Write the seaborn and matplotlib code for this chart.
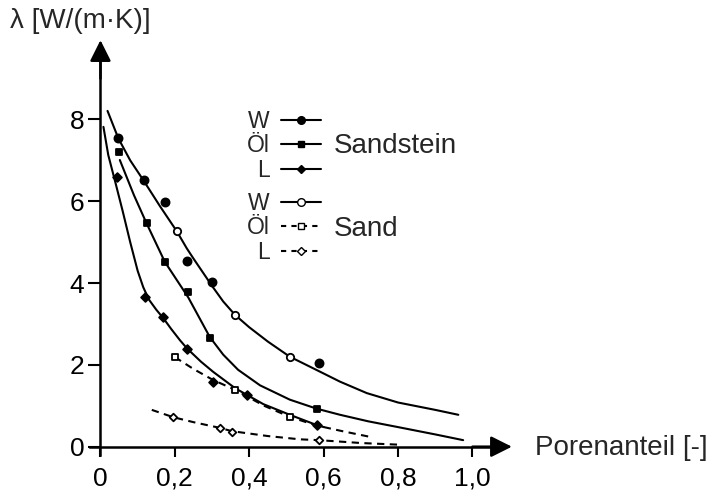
import numpy as np
import pandas as pd
import matplotlib
matplotlib.use("Agg")
import matplotlib.pyplot as plt
from matplotlib.lines import Line2D
import seaborn as sns

# ---------------- data ----------------
x_ticks = [0, 0.2, 0.4, 0.6, 0.8, 1.0]
x_tick_labels = ["0", "0,2", "0,4", "0,6", "0,8", "1,0"]
y_ticks = [0, 2, 4, 6, 8]
y_tick_labels = ["0", "2", "4", "6", "8"]

x_label = "Porenanteil [-]"
y_label = "λ [W/(m·K)]"

# measured points
w_sst_x = [0.048, 0.118, 0.173, 0.232, 0.299, 0.588]
w_sst_y = [7.55, 6.52, 5.99, 4.53, 4.02, 2.05]
oel_sst_x = [0.05, 0.124, 0.173, 0.236, 0.294, 0.581]
oel_sst_y = [7.2, 5.46, 4.52, 3.79, 2.65, 0.93]
l_sst_x = [0.044, 0.12, 0.169, 0.233, 0.303, 0.393, 0.581]
l_sst_y = [6.6, 3.67, 3.16, 2.38, 1.59, 1.26, 0.52]
w_sand_x = [0.205, 0.362, 0.509]
w_sand_y = [5.27, 3.22, 2.2]
oel_sand_x = [0.2, 0.362, 0.509]
oel_sand_y = [2.19, 1.39, 0.73]
l_sand_x = [0.196, 0.321, 0.353, 0.587]
l_sand_y = [0.72, 0.45, 0.35, 0.16]

# fitted curves
w_curve_x = [0.019, 0.048, 0.08, 0.115, 0.16, 0.205, 0.232, 0.25, 0.3, 0.33, 0.362, 0.4, 0.45, 0.509,
             0.58, 0.644, 0.716, 0.8, 0.9, 0.962]
w_curve_y = [8.21, 7.54, 7.0, 6.52, 5.88, 5.27, 4.85, 4.6, 3.93, 3.55, 3.22, 2.92, 2.57, 2.2,
             1.88, 1.59, 1.31, 1.08, 0.9, 0.78]
oel_curve_x = [0.052, 0.09, 0.124, 0.173, 0.236, 0.294, 0.33, 0.37, 0.429, 0.509, 0.581, 0.644,
               0.72, 0.805, 0.9, 0.975]
oel_curve_y = [7.01, 6.15, 5.46, 4.52, 3.65, 2.68, 2.25, 1.88, 1.5, 1.15, 0.93, 0.78,
               0.62, 0.47, 0.3, 0.16]
l_curve_x = [0.008, 0.021, 0.039, 0.06, 0.08, 0.1, 0.115, 0.13, 0.15, 0.17, 0.19, 0.214, 0.233,
             0.27, 0.303, 0.362, 0.438, 0.509, 0.581, 0.6]
l_curve_y = [7.82, 7.13, 6.5, 5.75, 5.0, 4.3, 3.9, 3.6, 3.35, 3.13, 2.88, 2.6, 2.4,
             2.08, 1.83, 1.43, 1.04, 0.78, 0.53, 0.48]
oel_sand_curve_x = [0.2, 0.25, 0.303, 0.362, 0.44, 0.509, 0.58, 0.65, 0.725]
oel_sand_curve_y = [2.19, 1.9, 1.63, 1.39, 1.0, 0.73, 0.52, 0.38, 0.24]
l_sand_curve_x = [0.138, 0.196, 0.25, 0.321, 0.353, 0.45, 0.536, 0.587, 0.7, 0.8]
l_sand_curve_y = [0.9, 0.72, 0.6, 0.46, 0.38, 0.26, 0.18, 0.16, 0.09, 0.05]

legend_labels = ["W", "Öl", "L"]
group_labels = ["Sandstein", "Sand"]

# ---------------- figure ----------------
sns.set_theme(style="white")
plt.rcParams["font.family"] = ["Liberation Sans", "DejaVu Sans"]

fig = plt.figure(figsize=(7.15, 4.96), dpi=100)
ax = fig.add_axes([0.1249, 0.0788, 0.5983, 0.8452])

LW = 1.5
DASH = (3.5, 2.6)

curves = [
    (w_curve_x, w_curve_y, "-"),
    (oel_curve_x, oel_curve_y, "-"),
    (l_curve_x, l_curve_y, "-"),
    (oel_sand_curve_x, oel_sand_curve_y, "--"),
    (l_sand_curve_x, l_sand_curve_y, "--"),
]
for cx, cy, ls in curves:
    df = pd.DataFrame({"x": cx, "y": cy})
    line_kw = dict(color="black", lw=LW, sort=False, estimator=None, ax=ax)
    if ls == "--":
        sns.lineplot(data=df, x="x", y="y", dashes=False, linestyle=(0, DASH), **line_kw)
    else:
        sns.lineplot(data=df, x="x", y="y", **line_kw)

points = [
    (w_sst_x, w_sst_y, "o", "black", 34),
    (oel_sst_x, oel_sst_y, "s", "black", 20),
    (l_sst_x, l_sst_y, "D", "black", 20),
    (w_sand_x, w_sand_y, "o", "white", 28),
    (oel_sand_x, oel_sand_y, "s", "white", 18),
    (l_sand_x, l_sand_y, "D", "white", 15),
]
for px, py, m, fc, s in points:
    df = pd.DataFrame({"x": px, "y": py})
    sns.scatterplot(data=df, x="x", y="y", marker=m, s=s, facecolor=fc,
                    edgecolor="black", linewidth=1.3, ax=ax, zorder=5)

ax.set_xlim(-0.03, 1.12)
ax.set_ylim(-0.25, 10.0)
ax.set_xlabel("")
ax.set_ylabel("")

for side in ["top", "right"]:
    ax.spines[side].set_visible(False)
ax.spines["left"].set_position(("data", 0))
ax.spines["bottom"].set_position(("data", 0))
ax.spines["left"].set_bounds(-0.2, 9.5)
ax.spines["bottom"].set_bounds(-0.028, 1.06)
for side in ["left", "bottom"]:
    ax.spines[side].set_linewidth(1.8)
    ax.spines[side].set_color("black")

ax.set_xticks(x_ticks)
ax.set_xticklabels(x_tick_labels)
ax.set_yticks(y_ticks)
ax.set_yticklabels(y_tick_labels)
ax.tick_params(axis="x", direction="out", length=7.5, width=1.5, pad=7,
               labelsize=19, colors="black", bottom=True)
ax.tick_params(axis="y", direction="out", length=8.5, width=1.5, pad=3,
               labelsize=19, colors="black", left=True)

arrow_kw = dict(arrowstyle="-|>,head_length=0.4,head_width=0.2", color="black",
                lw=1.8, mutation_scale=32, shrinkA=0, shrinkB=0)
ax.annotate("", xy=(1.106, 0), xytext=(1.0, 0), arrowprops=arrow_kw, annotation_clip=False)
ax.annotate("", xy=(0, 9.94), xytext=(0, 9.0), arrowprops=arrow_kw, annotation_clip=False)

fig.text(535 / 715, 1 - 448 / 496, x_label, fontsize=20, ha="left", va="center")
fig.text(10 / 715, 1 - 21 / 496, y_label, fontsize=20, ha="left", va="center")

# legends
h_sst = [
    Line2D([], [], color="black", lw=LW, marker="o", markersize=5.5, markerfacecolor="black"),
    Line2D([], [], color="black", lw=LW, marker="s", markersize=4.5, markerfacecolor="black"),
    Line2D([], [], color="black", lw=LW, marker="D", markersize=4.5, markerfacecolor="black"),
]
h_sand = [
    Line2D([], [], color="black", lw=LW, marker="o", markersize=5.5, markerfacecolor="white"),
    Line2D([], [], color="black", lw=LW, ls=(0, (2.5, 2.5)), marker="s", markersize=4.5, markerfacecolor="white"),
    Line2D([], [], color="black", lw=LW, ls=(0, (2.5, 2.5)), marker="D", markersize=4.5, markerfacecolor="white"),
]
leg_kw = dict(loc="center left", bbox_transform=fig.transFigure, markerfirst=False,
              frameon=False, borderpad=0, borderaxespad=0, handlelength=1.75,
              handletextpad=0.5, labelspacing=0.08, fontsize=16.5)
leg1 = ax.legend(h_sst, legend_labels, bbox_to_anchor=(247 / 715, 1 - 146 / 496), **leg_kw)
ax.add_artist(leg1)
leg2 = ax.legend(h_sand, legend_labels, bbox_to_anchor=(247 / 715, 1 - 228 / 496), **leg_kw)

fig.text(334 / 715, 1 - 146 / 496, group_labels[0], fontsize=20, ha="left", va="center")
fig.text(334 / 715, 1 - 229 / 496, group_labels[1], fontsize=20, ha="left", va="center")

fig.savefig("out.png", dpi=100, facecolor="white")
